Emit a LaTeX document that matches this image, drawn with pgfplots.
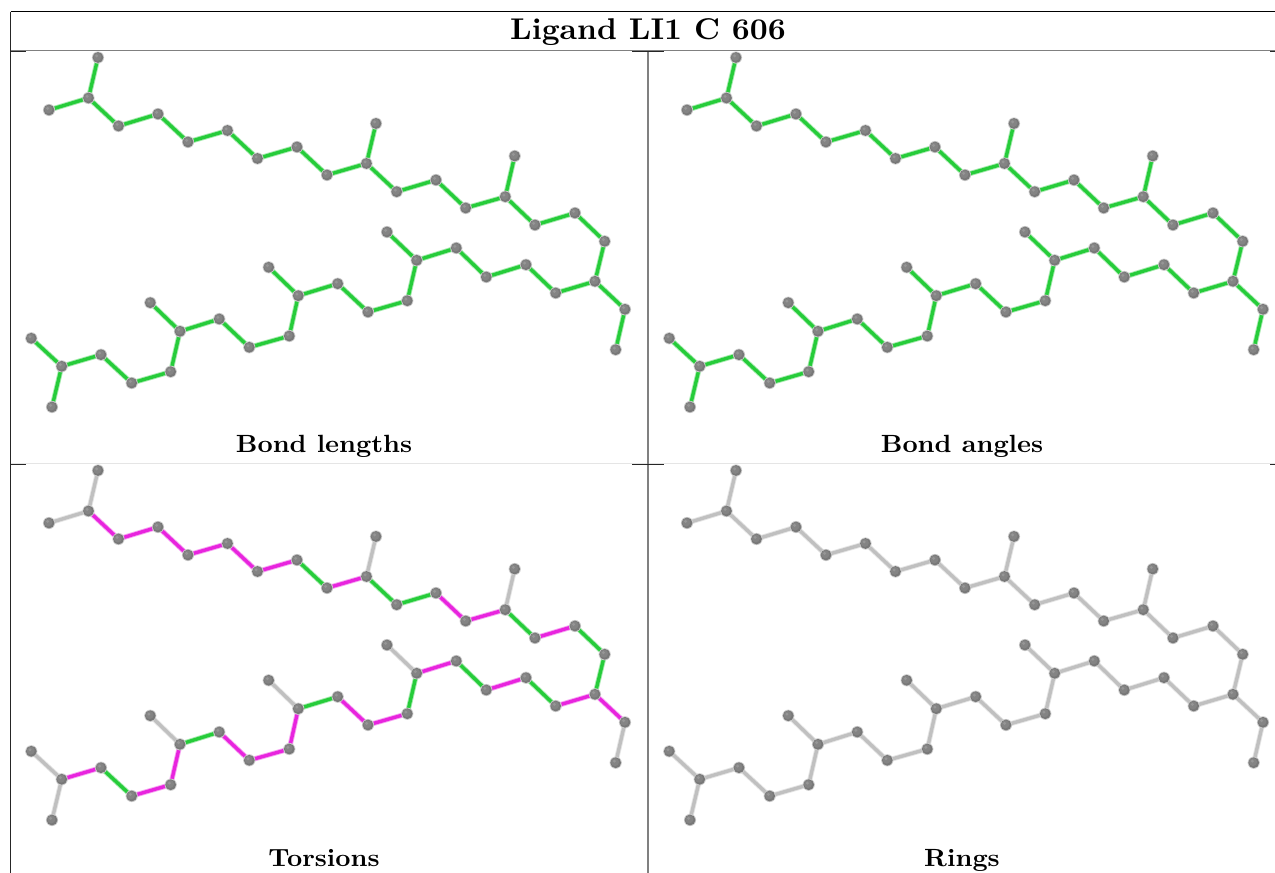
\documentclass[border=0pt]{standalone}
\usepackage{pgfplots}
\usepackage{pgfplotstable}
\pgfplotsset{compat=1.18}
\definecolor{bondgreen}{RGB}{38,204,58}
\definecolor{bondmag}{RGB}{232,36,222}
\definecolor{bondgray}{RGB}{192,192,192}
\definecolor{atomrim}{RGB}{205,205,205}
\definecolor{atomdark}{RGB}{120,120,120}
\definecolor{atommid}{RGB}{132,132,132}
\definecolor{atomlight}{RGB}{150,150,150}
\pgfdeclareplotmark{atom}{%
  \pgfsetcolor{atomrim}%
  \pgfpathcircle{\pgfpointorigin}{1.13\pgfplotmarksize}\pgfusepathqfill
  \pgfsetcolor{atomdark}%
  \pgfpathcircle{\pgfpointorigin}{\pgfplotmarksize}\pgfusepathqfill
  \pgfsetcolor{atommid}%
  \pgfpathcircle{\pgfpoint{-0.12\pgfplotmarksize}{0.12\pgfplotmarksize}}{0.75\pgfplotmarksize}\pgfusepathqfill
  \pgfsetcolor{atomlight}%
  \pgfpathcircle{\pgfpoint{-0.25\pgfplotmarksize}{0.3\pgfplotmarksize}}{0.3\pgfplotmarksize}\pgfusepathqfill
}

\pgfplotstableread{
x y
31.3 338.3
61.7 366.3
52 407
101 354.7
131.7 383
170.7 371.7
180 331.3
150.3 302.7
219.3 319
249.3 347.3
289.3 336
298.3 295.7
268.7 267.3
337.7 283.7
368 312
407.3 300.7
416.7 260.3
387 232
456.3 248
486.3 277
526 264.7
555.7 293
595 281.3
625 309.3
615.7 349.7
604.7 241.3
575 213
535 225
505.3 196.7
514.7 156
465.7 208
436 180
396.7 191.7
366.5 163.5
376 123.5
327 175
297 147
257.5 158.5
227.5 130.5
188 142
158 114
118.5 126
88.5 98
49 110
98 57.5
}\atoms

\pgfplotstableread{
x y
98 57.5
88.5 98
49 110
nan nan
88.5 98
118.5 126
158 114
188 142
227.5 130.5
257.5 158.5
297 147
327 175
366.5 163.5
396.7 191.7
436 180
465.7 208
505.3 196.7
535 225
575 213
604.7 241.3
595 281.3
555.7 293
526 264.7
486.3 277
456.3 248
416.7 260.3
407.3 300.7
368 312
337.7 283.7
298.3 295.7
289.3 336
249.3 347.3
219.3 319
180 331.3
170.7 371.7
131.7 383
101 354.7
61.7 366.3
31.3 338.3
nan nan
61.7 366.3
52 407
nan nan
366.5 163.5
376 123.5
nan nan
505.3 196.7
514.7 156
nan nan
595 281.3
625 309.3
615.7 349.7
nan nan
416.7 260.3
387 232
nan nan
298.3 295.7
268.7 267.3
nan nan
180 331.3
150.3 302.7
}\allbonds

\pgfplotstableread{
x y
297 147
327 175
nan nan
366.5 163.5
396.7 191.7
436 180
nan nan
505.3 196.7
535 225
nan nan
575 213
604.7 241.3
595 281.3
nan nan
555.7 293
526 264.7
nan nan
486.3 277
456.3 248
nan nan
416.7 260.3
407.3 300.7
nan nan
337.7 283.7
298.3 295.7
nan nan
219.3 319
180 331.3
nan nan
131.7 383
101 354.7
}\torsgreen

\pgfplotstableread{
x y
88.5 98
118.5 126
158 114
188 142
227.5 130.5
257.5 158.5
297 147
nan nan
327 175
366.5 163.5
nan nan
436 180
465.7 208
505.3 196.7
nan nan
535 225
575 213
nan nan
595 281.3
625 309.3
nan nan
595 281.3
555.7 293
nan nan
526 264.7
486.3 277
nan nan
456.3 248
416.7 260.3
nan nan
407.3 300.7
368 312
337.7 283.7
nan nan
298.3 295.7
289.3 336
249.3 347.3
219.3 319
nan nan
180 331.3
170.7 371.7
131.7 383
nan nan
101 354.7
61.7 366.3
}\torsmag

\pgfplotstableread{
x y
98 57.5
88.5 98
49 110
nan nan
61.7 366.3
31.3 338.3
nan nan
61.7 366.3
52 407
nan nan
366.5 163.5
376 123.5
nan nan
505.3 196.7
514.7 156
nan nan
625 309.3
615.7 349.7
nan nan
416.7 260.3
387 232
nan nan
298.3 295.7
268.7 267.3
nan nan
180 331.3
150.3 302.7
}\torsgray

\pgfplotsset{
  panel/.style={
    scale only axis, width=638pt, height=413pt,
    xmin=0, xmax=638, ymin=50.5, ymax=463.5, y dir=reverse,
    hide axis, clip=false, anchor=north west,
    unbounded coords=jump},
  halo/.style={no markers, line width=5.2pt, line join=round, line cap=round, opacity=0.4},
  core/.style={no markers, line width=3.4pt, line join=round, line cap=round},
  atomplot/.style={only marks, mark=atom, mark size=5.4pt}
}
\newcommand{\bonds}[2]{%
  \addplot[halo, color=#1] table {#2};
  \addplot[core, color=#1] table {#2};
}
\newcommand{\panelcap}[2]{\node[font=\bfseries, xscale=2.65, yscale=2.49, anchor=base] at (axis cs:324,#1) {#2};}

\begin{document}
\begin{tikzpicture}[x=1pt,y=1pt]
\useasboundingbox (0,0) rectangle (1275pt,-873pt);

\begin{axis}[panel, at={(0pt,-50.5pt)}]
  \bonds{bondgreen}{\allbonds}
  \addplot[atomplot] table {\atoms};
  \panelcap{452}{Bond lengths}
\end{axis}

\begin{axis}[panel, at={(638pt,-50.5pt)}]
  \bonds{bondgreen}{\allbonds}
  \addplot[atomplot] table {\atoms};
  \panelcap{452}{Bond angles}
\end{axis}

\begin{axis}[panel, at={(0pt,-463.5pt)}]
  \bonds{bondgray}{\torsgray}
  \bonds{bondgreen}{\torsgreen}
  \bonds{bondmag}{\torsmag}
  \addplot[atomplot] table {\atoms};
  \panelcap{453}{Torsions}
\end{axis}

\begin{axis}[panel, at={(638pt,-463.5pt)}]
  \bonds{bondgray}{\allbonds}
  \addplot[atomplot] table {\atoms};
  \panelcap{453}{Rings}
\end{axis}

% frame
\draw[black, line width=1pt] (10.5pt,-11.5pt) -- (1275pt,-11.5pt);
\draw[black!85, line width=1pt] (10.5pt,-11.5pt) -- (10.5pt,-873pt);
\draw[black!50, line width=1pt] (11pt,-50.5pt) -- (1275pt,-50.5pt);
\draw[black!10, line width=1pt] (11pt,-463.5pt) -- (1275pt,-463.5pt);
\draw[black!50, line width=2pt] (648pt,-50.5pt) -- (648pt,-873pt);
\foreach \yy in {51.5,464.5}{
  \draw[black!85, line width=1pt] (11pt,-\yy pt) -- (26pt,-\yy pt);
  \draw[black!85, line width=1pt] (632pt,-\yy pt) -- (664pt,-\yy pt);
  \draw[black!85, line width=1pt] (1270pt,-\yy pt) -- (1275pt,-\yy pt);
}
\node[font=\bfseries, xscale=3.12, yscale=3.0, anchor=base] at (648pt,-39.3pt) {Ligand LI1 C 606};
\end{tikzpicture}
\end{document}
